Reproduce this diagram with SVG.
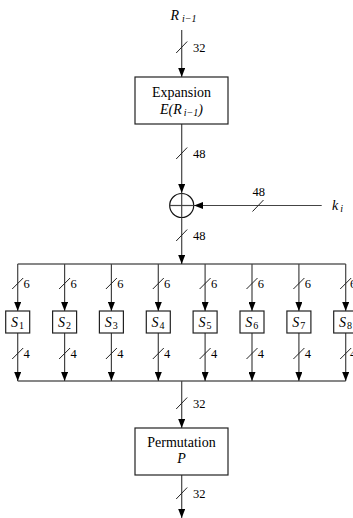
<svg xmlns="http://www.w3.org/2000/svg" width="353" height="518" viewBox="0 0 353 518">
<defs>
<marker id="ah" markerWidth="9" markerHeight="7" refX="9" refY="3.5" orient="auto" markerUnits="userSpaceOnUse">
<path d="M0,0 L9,3.5 L0,7 z" fill="#000"/>
</marker>
<style>
.ln{stroke:#444;stroke-width:1.2;fill:none}
.bx{stroke:#222;stroke-width:1.2;fill:#fff}
.sl{stroke:#222;stroke-width:1}
.t{font-family:"Liberation Serif","Times New Roman",serif;font-size:14px;fill:#000}
.n{font-family:"Liberation Serif","Times New Roman",serif;font-size:12.5px;fill:#000}
.it{font-style:italic}
.sub{font-size:10px}
.up{font-style:normal}
</style>
</defs>
<g id="connectors">
<line class="ln" x1="181.7" y1="30" x2="181.7" y2="77" marker-end="url(#ah)"/>
<line class="ln" x1="181.7" y1="124" x2="181.7" y2="193" marker-end="url(#ah)"/>
<line class="ln" x1="321.7" y1="205.5" x2="194" y2="205.5" marker-end="url(#ah)"/>
<line class="ln" x1="181.7" y1="218" x2="181.7" y2="264" marker-end="url(#ah)"/>
<line class="ln" x1="17.7" y1="264" x2="345.7" y2="264" style="stroke:#111"/>
<line class="ln" x1="17.7" y1="381" x2="345.7" y2="381" style="stroke:#111"/>
<line class="ln" x1="181.7" y1="381" x2="181.7" y2="428" marker-end="url(#ah)"/>
<line class="ln" x1="181.7" y1="475" x2="181.7" y2="518" marker-end="url(#ah)"/>
<g id="sbox-lines">
<line class="ln" x1="17.7" y1="264" x2="17.7" y2="311" marker-end="url(#ah)"/>
<line class="ln" x1="64.6" y1="264" x2="64.6" y2="311" marker-end="url(#ah)"/>
<line class="ln" x1="111.4" y1="264" x2="111.4" y2="311" marker-end="url(#ah)"/>
<line class="ln" x1="158.3" y1="264" x2="158.3" y2="311" marker-end="url(#ah)"/>
<line class="ln" x1="205.1" y1="264" x2="205.1" y2="311" marker-end="url(#ah)"/>
<line class="ln" x1="252" y1="264" x2="252" y2="311" marker-end="url(#ah)"/>
<line class="ln" x1="298.9" y1="264" x2="298.9" y2="311" marker-end="url(#ah)"/>
<line class="ln" x1="345.7" y1="264" x2="345.7" y2="311" marker-end="url(#ah)"/>
<line class="ln" x1="17.7" y1="333" x2="17.7" y2="381" marker-end="url(#ah)"/>
<line class="ln" x1="64.6" y1="333" x2="64.6" y2="381" marker-end="url(#ah)"/>
<line class="ln" x1="111.4" y1="333" x2="111.4" y2="381" marker-end="url(#ah)"/>
<line class="ln" x1="158.3" y1="333" x2="158.3" y2="381" marker-end="url(#ah)"/>
<line class="ln" x1="205.1" y1="333" x2="205.1" y2="381" marker-end="url(#ah)"/>
<line class="ln" x1="252" y1="333" x2="252" y2="381" marker-end="url(#ah)"/>
<line class="ln" x1="298.9" y1="333" x2="298.9" y2="381" marker-end="url(#ah)"/>
<line class="ln" x1="345.7" y1="333" x2="345.7" y2="381" marker-end="url(#ah)"/>
</g>
<g id="slashes">
<line class="sl" x1="176.2" y1="53" x2="187.2" y2="41.5"/>
<line class="sl" x1="176.2" y1="159" x2="187.2" y2="147.5"/>
<line class="sl" x1="252.5" y1="211.5" x2="263.5" y2="200"/>
<line class="sl" x1="176.2" y1="241" x2="187.2" y2="229.5"/>
<line class="sl" x1="176.2" y1="409" x2="187.2" y2="397.5"/>
<line class="sl" x1="176.2" y1="499" x2="187.2" y2="487.5"/>
<line class="sl" x1="12.2" y1="289" x2="23.2" y2="278"/>
<line class="sl" x1="59.1" y1="289" x2="70.1" y2="278"/>
<line class="sl" x1="105.9" y1="289" x2="116.9" y2="278"/>
<line class="sl" x1="152.8" y1="289" x2="163.8" y2="278"/>
<line class="sl" x1="199.6" y1="289" x2="210.6" y2="278"/>
<line class="sl" x1="246.5" y1="289" x2="257.5" y2="278"/>
<line class="sl" x1="293.4" y1="289" x2="304.4" y2="278"/>
<line class="sl" x1="340.2" y1="289" x2="351.2" y2="278"/>
<line class="sl" x1="12.2" y1="359" x2="23.2" y2="348"/>
<line class="sl" x1="59.1" y1="359" x2="70.1" y2="348"/>
<line class="sl" x1="105.9" y1="359" x2="116.9" y2="348"/>
<line class="sl" x1="152.8" y1="359" x2="163.8" y2="348"/>
<line class="sl" x1="199.6" y1="359" x2="210.6" y2="348"/>
<line class="sl" x1="246.5" y1="359" x2="257.5" y2="348"/>
<line class="sl" x1="293.4" y1="359" x2="304.4" y2="348"/>
<line class="sl" x1="340.2" y1="359" x2="351.2" y2="348"/>
</g>
<g id="width-labels">
<text class="n" x="193" y="52">32</text>
<text class="n" x="193" y="158">48</text>
<text class="n" x="252.5" y="196">48</text>
<text class="n" x="193" y="240">48</text>
<text class="n" x="193" y="408">32</text>
<text class="n" x="193" y="498">32</text>
<text class="n" x="23.5" y="288">6</text>
<text class="n" x="70.4" y="288">6</text>
<text class="n" x="117.2" y="288">6</text>
<text class="n" x="164.1" y="288">6</text>
<text class="n" x="210.9" y="288">6</text>
<text class="n" x="257.8" y="288">6</text>
<text class="n" x="304.7" y="288">6</text>
<text class="n" x="350" y="288">6</text>
<text class="n" x="23.5" y="358">4</text>
<text class="n" x="70.4" y="358">4</text>
<text class="n" x="117.2" y="358">4</text>
<text class="n" x="164.1" y="358">4</text>
<text class="n" x="210.9" y="358">4</text>
<text class="n" x="257.8" y="358">4</text>
<text class="n" x="304.7" y="358">4</text>
<text class="n" x="350" y="358">4</text>
</g>
</g>
<g id="input">
<text class="t it" x="170.5" y="20">R<tspan class="sub" dx="3" dy="2">i−1</tspan></text>
</g>
<g id="key">
<text class="t it" x="332" y="210">k<tspan class="sub" dx="2" dy="2">i</tspan></text>
</g>
<g id="expansion">
<rect class="bx" x="135" y="77" width="93" height="47"/>
<text class="t" x="181.5" y="97" text-anchor="middle">Expansion</text>
<text class="t it" x="181.5" y="114" text-anchor="middle">E(R<tspan class="sub" dx="2" dy="2">i−1</tspan><tspan dy="-2">)</tspan></text>
</g>
<g id="xor">
<circle cx="181.7" cy="205.5" r="12" fill="none" stroke="#111" stroke-width="1.2"/>
<line class="ln" x1="169.7" y1="205.5" x2="193.7" y2="205.5"/>
<line class="ln" x1="181.7" y1="193.5" x2="181.7" y2="217.5"/>
</g>
<g id="S1"><rect class="bx" x="5.7" y="311" width="24" height="22"/><text class="t it" x="11" y="327">S<tspan class="sub up" dx="1" dy="2">1</tspan></text></g>
<g id="S2"><rect class="bx" x="52.6" y="311" width="24" height="22"/><text class="t it" x="57.9" y="327">S<tspan class="sub up" dx="1" dy="2">2</tspan></text></g>
<g id="S3"><rect class="bx" x="99.4" y="311" width="24" height="22"/><text class="t it" x="104.7" y="327">S<tspan class="sub up" dx="1" dy="2">3</tspan></text></g>
<g id="S4"><rect class="bx" x="146.3" y="311" width="24" height="22"/><text class="t it" x="151.6" y="327">S<tspan class="sub up" dx="1" dy="2">4</tspan></text></g>
<g id="S5"><rect class="bx" x="193.1" y="311" width="24" height="22"/><text class="t it" x="198.4" y="327">S<tspan class="sub up" dx="1" dy="2">5</tspan></text></g>
<g id="S6"><rect class="bx" x="240" y="311" width="24" height="22"/><text class="t it" x="245.3" y="327">S<tspan class="sub up" dx="1" dy="2">6</tspan></text></g>
<g id="S7"><rect class="bx" x="286.9" y="311" width="24" height="22"/><text class="t it" x="292.2" y="327">S<tspan class="sub up" dx="1" dy="2">7</tspan></text></g>
<g id="S8"><rect class="bx" x="333.7" y="311" width="24" height="22"/><text class="t it" x="339" y="327">S<tspan class="sub up" dx="1" dy="2">8</tspan></text></g>
<g id="permutation">
<rect class="bx" x="135" y="428" width="93" height="47"/>
<text class="t" x="181.5" y="447" text-anchor="middle">Permutation</text>
<text class="t it" x="181.5" y="463" text-anchor="middle">P</text>
</g>
</svg>
